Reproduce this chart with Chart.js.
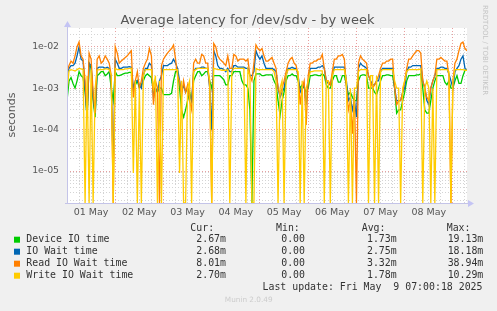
<!DOCTYPE html>
<html lang="en">
<head>
<meta charset="UTF-8">
<title>Average latency for /dev/sdv - by week</title>
<script src="https://cdn.jsdelivr.net/npm/chart.js@4"></script>
<style>
  body { margin: 0; background: #f0f0f0; }
  #chart { display: block; }
</style>
</head>
<body>
<canvas id="chart" width="497" height="311"></canvas>
<script>
// hourly samples from 01 May 00:00, values in milliseconds (munin "m")
const stepHours = 1;

const deviceIoMs = [
  0.5, 1.5, 1.8, 1.3, 1.0, 1.5, 2.5, 2.0, 1.8, 0.8,
  0.2, 4.0, 3.0, 0.5, 0.2, 2.0, 2.2, 2.5, 2.5, 2.0,
  2.2, 2.5, 1.0, 0.5, 2.5, 2.0, 2.0, 2.1, 2.2, 2.3,
  2.3, 2.4, 2.4, 0.9, 1.2, 1.5, 1.0, 1.2, 1.5, 2.0,
  2.2, 2.0, 1.8, 0.8, 1.0, 0.8, 1.0, 1.0, 0.7, 0.7,
  0.7, 0.7, 0.75, 1.5, 2.5, 2.5, 1.0, 0.3, 0.2, 0.3,
  0.5, 0.8, 0.5, 1.5, 2.0, 2.5, 2.5, 2.0, 2.2, 2.5,
  2.5, 1.5, 1.0, 2.0, 2.0, 2.0, 2.0, 1.8, 1.6, 1.2,
  1.2, 2.0, 2.0, 2.5, 2.5, 2.5, 2.5, 1.5, 1.2, 1.2,
  1.0, 0.3, 0, 1.5, 2.2, 2.2, 2.2, 2.0, 2.0, 2.1,
  2.1, 2.1, 2.1, 1.5, 1.2, 0.5, 0.22, 0.5, 0.8, 1.5,
  2.0, 2.0, 2.2, 2.0, 2.0, 1.5, 1.0, 1.2, 1.0, 0.8,
  1.0, 2.0, 2.0, 2.1, 2.1, 2.0, 2.0, 2.2, 2.0, 1.2,
  1.0, 1.0, 1.5, 2.0, 2.0, 1.4, 1.4, 2.0, 2.0, 1.2,
  0.7, 0.8, 0.6, 0.5, 0.5, 1.5, 2.0, 2.1, 2.1, 2.0,
  1.0, 1.0, 1.0, 0.8, 0.7, 1.0, 1.5, 2.0, 2.0, 2.1,
  2.1, 2.0, 2.0, 1.0, 0.25, 0.3, 0.3, 0.5, 0.8, 1.5,
  2.0, 2.0, 2.0, 2.0, 2.1, 2.1, 2.2, 1.0, 0.3, 0.25,
  0.25, 0.5, 1.0, 1.5, 2.0, 2.0, 2.0, 2.0, 1.4, 1.2,
  1.5, 1.0, 1.0, 1.5, 2.0, 1.3, 1.3, 2.0, 2.7, 2.67
];
const ioWaitMs = [
  2.0, 3.0, 3.5, 3.5, 4.0, 6.0, 10, 5.0, 4.5, 1.0,
  0.2, 4.0, 3.5, 0.6, 0.25, 3.0, 3.2, 3.2, 3.2, 3.0,
  3.2, 3.0, 1.5, 0.01, 5.0, 4.0, 3.0, 3.0, 3.2, 3.2,
  3.2, 3.3, 3.2, 1.0, 1.5, 1.5, 1.2, 1.0, 2.0, 3.0,
  3.0, 4.0, 3.5, 0.6, 1.0, 0.8, 1.5, 2.0, 3.5, 3.5,
  3.5, 3.8, 4.0, 5.0, 4.0, 3.0, 1.5, 0.8, 1.2, 0.8,
  1.0, 0.7, 0.5, 2.5, 3.0, 3.0, 3.0, 3.2, 3.2, 3.0,
  3.0, 1.0, 0.1, 8.0, 6.0, 3.5, 3.0, 3.0, 2.8, 2.5,
  3.0, 2.5, 2.5, 3.5, 3.5, 3.2, 3.2, 3.2, 3.2, 3.0,
  3.0, 2.0, 2.0, 2.5, 8.0, 6.0, 5.0, 6.0, 4.0, 3.0,
  3.0, 3.0, 3.0, 2.8, 2.5, 1.0, 0.6, 0.8, 1.0, 2.0,
  3.0, 3.0, 3.2, 3.0, 3.0, 2.0, 0.8, 1.0, 1.2, 0.4,
  1.5, 3.0, 3.0, 3.0, 3.0, 3.2, 3.2, 3.5, 3.0, 1.5,
  1.3, 1.2, 2.0, 3.2, 3.2, 3.2, 3.2, 3.2, 3.2, 1.5,
  0.5, 0.6, 0.3, 0.5, 0.2, 3.0, 4.0, 3.5, 3.3, 3.0,
  2.0, 1.5, 1.2, 1.2, 1.5, 1.5, 2.5, 3.0, 3.0, 3.0,
  3.0, 3.0, 3.0, 1.0, 0.5, 0.5, 0.5, 0.8, 1.0, 2.5,
  3.2, 3.2, 3.5, 3.5, 3.5, 3.5, 3.5, 1.5, 1.0, 0.5,
  0.4, 1.0, 1.5, 2.0, 3.0, 3.0, 3.2, 3.2, 3.0, 3.0,
  2.2, 1.5, 1.0, 2.5, 3.0, 3.5, 5.0, 6.0, 3.0, 2.68
];
const readWaitMs = [
  2.5, 3.5, 4.5, 4.0, 6.0, 10, 13, 6.0, 5.0, 1.5,
  0.2, 7.0, 5.0, 0.8, 0.25, 5.0, 6.0, 4.0, 4.5, 6.0,
  5.0, 4.0, 2.0, 0, 10, 7.0, 4.0, 4.5, 5.0, 5.5,
  6.0, 7.0, 8.0, 0.6, 1.5, 2.5, 1.0, 1.5, 3.0, 4.0,
  5.0, 9.0, 6.0, 0.4, 1.5, 1.0, 0, 3.5, 5.0, 6.0,
  7.0, 8.0, 9.0, 11, 5.0, 2.0, 1.5, 0.6, 1.5, 0.8,
  1.2, 0.5, 0.3, 4.0, 5.0, 4.0, 4.0, 6.5, 6.0, 4.0,
  4.0, 1.0, 0, 12, 10, 6.0, 5.0, 4.5, 4.0, 3.5,
  6.0, 3.0, 3.0, 6.5, 6.0, 4.5, 5.0, 5.0, 5.0, 4.5,
  5.0, 2.0, 1.5, 4.0, 11, 9.0, 8.0, 9.0, 6.0, 4.5,
  4.5, 5.0, 5.5, 4.0, 3.0, 1.0, 0.7, 1.0, 1.5, 2.5,
  4.0, 5.0, 5.5, 4.0, 3.5, 2.0, 0.4, 1.0, 1.5, 0.13,
  2.0, 4.0, 4.0, 4.5, 4.5, 5.0, 5.0, 6.5, 3.0, 1.5,
  1.5, 1.2, 2.5, 5.0, 5.0, 6.0, 6.0, 6.5, 5.0, 1.0,
  0.3, 0.5, 0.08, 0.8, 0, 4.0, 6.0, 5.0, 4.5, 4.0,
  2.0, 1.5, 1.0, 1.2, 1.5, 2.0, 3.0, 4.0, 4.0, 4.5,
  4.5, 5.0, 5.0, 1.0, 0.4, 0.5, 0.5, 0.8, 1.5, 3.0,
  5.0, 5.0, 6.0, 7.0, 8.0, 8.0, 7.0, 1.5, 1.0, 0.6,
  0.5, 1.0, 1.5, 2.0, 5.0, 5.0, 5.5, 5.0, 4.5, 4.5,
  2.0, 0, 1.5, 4.0, 5.0, 8.0, 12, 13, 9.0, 8.0
];
const writeWaitMs = [
  0.8, 2.6, 2.8, 2.7, 2.6, 2.8, 3.0, 2.9, 2.8, 0,
  2.0, 0, 2.8, 0, 1.0, 2.7, 2.8, 2.8, 2.8, 2.9,
  2.9, 2.8, 2.0, 0, 3.0, 2.8, 2.8, 2.8, 2.8, 2.9,
  2.9, 3.0, 3.0, 0.009, 1.5, 0, 1.0, 0, 2.0, 2.8,
  2.8, 2.8, 2.8, 1.0, 2.0, 0, 1.5, 0, 2.8, 2.8,
  2.8, 2.8, 2.8, 2.8, 2.8, 2.8, 0.009, 1.5, 0, 0,
  1.0, 1.5, 0, 2.5, 2.8, 3.0, 3.0, 3.0, 3.0, 3.0,
  3.0, 1.5, 0, 3.0, 2.9, 2.8, 2.8, 2.7, 2.7, 2.7,
  2.8, 0, 2.5, 3.0, 3.0, 3.0, 3.0, 3.0, 3.0, 0,
  2.8, 2.0, 0, 0, 3.0, 2.8, 2.8, 2.8, 2.8, 2.8,
  2.8, 2.8, 2.8, 2.5, 1.5, 0, 1.0, 1.5, 0, 2.0,
  2.8, 2.8, 2.8, 2.8, 2.8, 2.5, 0, 1.5, 0, 1.0,
  1.5, 2.5, 2.5, 2.6, 2.6, 2.6, 2.6, 2.6, 0, 1.5,
  1.5, 0, 2.0, 2.8, 2.8, 2.8, 2.8, 2.8, 2.8, 1.5,
  0, 1.0, 0, 1.0, 1.0, 2.5, 2.8, 2.8, 2.8, 2.8,
  0, 2.0, 2.0, 0, 2.0, 0, 2.5, 2.8, 2.8, 2.8,
  2.8, 2.8, 2.8, 1.5, 1.0, 1.0, 0, 1.0, 1.5, 2.5,
  2.8, 2.8, 2.8, 2.8, 2.8, 2.8, 2.9, 0, 1.0, 1.5,
  1.0, 0, 1.0, 0, 2.8, 2.8, 2.8, 2.8, 2.8, 2.8,
  2.5, 0, 1.5, 2.8, 2.8, 2.8, 2.8, 2.8, 2.7, 2.7
];

const dayLabels = ['01 May', '02 May', '03 May', '04 May', '05 May', '06 May', '07 May', '08 May'];
const yMin = 1.7e-6;
const yMax = 2.82e-2;

const seriesNames = ['Device IO time', 'IO Wait time', 'Read IO Wait time', 'Write IO Wait time'];
const curText = ['2.67m', '2.68m', '8.01m', '2.70m'];
const minText = ['0.00', '0.00', '0.00', '0.00'];
const avgText = ['1.73m', '2.75m', '3.32m', '1.78m'];
const maxText = ['19.13m', '18.18m', '38.94m', '10.29m'];
const lastUpdate = 'Last update: Fri May  9 07:00:18 2025';

const colors = ['#00cc00', '#0066b3', '#ff8000', '#ffcc00'];

// ms -> seconds; log axis can't show 0, munin pins it to the bottom edge
function toPoints(arr) {
  return arr.map((v, i) => ({ x: i * stepHours, y: Math.max(v / 1000, yMin) }));
}

function isDecade(v) {
  const e = Math.floor(Math.log10(v) + 1e-9);
  return Math.abs(v / Math.pow(10, e) - 1) < 1e-6;
}

const muninExtras = {
  id: 'muninExtras',
  beforeDraw(chart) {
    const { ctx, chartArea: a } = chart;
    ctx.save();
    ctx.fillStyle = '#ffffff';
    ctx.fillRect(a.left, a.top, a.right - a.left, a.bottom - a.top);
    ctx.restore();
  },
  afterDraw(chart) {
    const { ctx, chartArea: a } = chart;
    ctx.save();

    // axes + arrows
    ctx.strokeStyle = '#c4c4e8';
    ctx.lineWidth = 1;
    ctx.beginPath();
    ctx.moveTo(a.left + 0.5, a.bottom + 0.5);
    ctx.lineTo(a.left + 0.5, a.top - 4);
    ctx.moveTo(a.left - 2, a.bottom + 0.5);
    ctx.lineTo(a.right + 3, a.bottom + 0.5);
    ctx.stroke();
    ctx.fillStyle = '#c4c4f4';
    ctx.beginPath();
    ctx.moveTo(a.left + 0.5, a.top - 7);
    ctx.lineTo(a.left - 3, a.top - 1);
    ctx.lineTo(a.left + 4, a.top - 1);
    ctx.fill();
    ctx.beginPath();
    ctx.moveTo(a.right + 7, a.bottom + 0.5);
    ctx.lineTo(a.right + 1, a.bottom - 3);
    ctx.lineTo(a.right + 1, a.bottom + 4);
    ctx.fill();

    // title
    ctx.fillStyle = '#555555';
    ctx.font = '13px "DejaVu Sans"';
    ctx.textAlign = 'center';
    ctx.textBaseline = 'alphabetic';
    ctx.fillText('Average latency for /dev/sdv - by week', 247.5, 24);

    // y axis title
    ctx.save();
    ctx.translate(15, 115);
    ctx.rotate(-Math.PI / 2);
    ctx.font = '11px "DejaVu Sans"';
    ctx.fillText('seconds', 0, 0);
    ctx.restore();

    // rrdtool watermark
    ctx.save();
    ctx.translate(483, 5);
    ctx.rotate(Math.PI / 2);
    ctx.fillStyle = '#c4c4c4';
    ctx.font = '7px "DejaVu Sans"';
    ctx.textAlign = 'left';
    ctx.fillText('RRDTOOL / TOBI OETIKER', 0, 0);
    ctx.restore();

    // legend table
    ctx.font = '9.9px "DejaVu Sans Mono"';
    ctx.fillStyle = '#333333';
    ctx.textBaseline = 'middle';
    ctx.textAlign = 'left';
    ctx.fillText('Cur:', 190.3, 228.5);
    ctx.fillText('Min:', 276, 228.5);
    ctx.fillText('Avg:', 361.7, 228.5);
    ctx.fillText('Max:', 446.7, 228.5);
    seriesNames.forEach((name, i) => {
      const y = 239.7 + i * 12;
      ctx.fillStyle = colors[i];
      ctx.fillRect(14, y - 3, 6, 6);
      ctx.fillStyle = '#333333';
      ctx.textAlign = 'left';
      ctx.fillText(name, 26.3, y);
      ctx.textAlign = 'right';
      ctx.fillText(curText[i], 226, y);
      ctx.fillText(minText[i], 305, y);
      ctx.fillText(avgText[i], 396.7, y);
      ctx.fillText(maxText[i], 483.3, y);
    });
    ctx.textAlign = 'right';
    ctx.fillText(lastUpdate, 482.5, 287.7);

    ctx.fillStyle = '#cccccc';
    ctx.textAlign = 'center';
    ctx.font = '7.3px "DejaVu Sans"';
    ctx.fillText('Munin 2.0.49', 248.7, 300);

    ctx.restore();
  }
};

const datasets = [deviceIoMs, ioWaitMs, readWaitMs, writeWaitMs].map((arr, i) => ({
  label: seriesNames[i],
  data: toPoints(arr),
  borderColor: colors[i],
  backgroundColor: colors[i],
  borderWidth: 1.3,
  pointRadius: 0,
  tension: 0,
  order: 3 - i   // munin stacks later series on top
}));

new Chart(document.getElementById('chart'), {
  type: 'line',
  data: { datasets: datasets },
  options: {
    responsive: false,
    animation: false,
    devicePixelRatio: 1,
    layout: { padding: { left: 0, right: 30, top: 28, bottom: 88 } },
    plugins: {
      legend: { display: false },
      title: { display: false },
      tooltip: { enabled: false }
    },
    scales: {
      x: {
        type: 'linear',
        min: 0,
        max: 199,
        afterBuildTicks: s => {
          const t = [];
          for (let h = 0; h <= 198; h += 6) t.push({ value: h });
          s.ticks = t;
        },
        afterFit: s => { s.height = 20; },
        ticks: {
          autoSkip: false,
          maxRotation: 0,
          padding: 4,
          color: '#555555',
          font: { family: 'DejaVu Sans', size: 9.5 },
          callback: v => (v % 24 === 12 ? dayLabels[(v - 12) / 24] : '')
        },
        grid: {
          drawTicks: false,
          lineWidth: 1,
          color: c => (c.tick && c.tick.value % 24 === 0 ? '#e8a0a0' : '#d4d4d4')
        },
        border: { display: false, dash: [1, 2] }
      },
      y: {
        type: 'logarithmic',
        min: yMin,
        max: yMax,
        afterBuildTicks: s => {
          const t = [];
          for (let e = -6; e <= -2; e++) {
            for (let m = 1; m <= 9; m++) {
              const v = m * Math.pow(10, e);
              if (v >= yMin && v <= yMax) t.push({ value: v });
            }
          }
          s.ticks = t;
        },
        afterFit: s => { s.width = 67; },
        ticks: {
          autoSkip: false,
          padding: 8,
          color: '#555555',
          font: { family: 'DejaVu Sans', size: 9.3 },
          callback: v => {
            if (!isDecade(v)) return '';
            const e = Math.round(Math.log10(v));
            return '1e-' + String(-e).padStart(2, '0');
          }
        },
        grid: {
          drawTicks: false,
          lineWidth: 1,
          color: c => (c.tick && isDecade(c.tick.value) ? '#e8a0a0' : '#d4d4d4')
        },
        border: { display: false, dash: [1, 2] }
      }
    }
  },
  plugins: [muninExtras]
});
</script>
</body>
</html>
